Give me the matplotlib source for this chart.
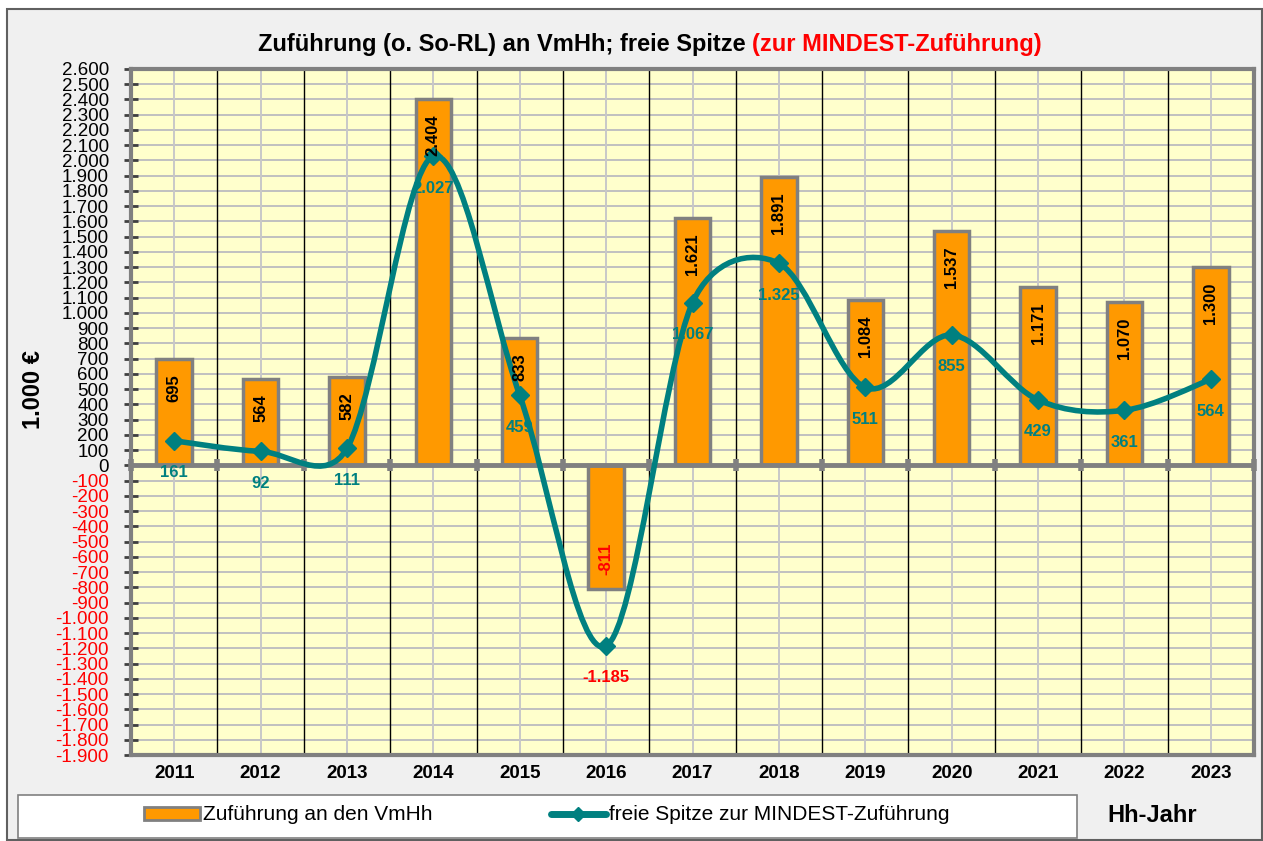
import numpy as np
import matplotlib
matplotlib.use('Agg')
import matplotlib.pyplot as plt
from matplotlib.path import Path
from matplotlib.patches import PathPatch, Rectangle, Patch
from matplotlib.lines import Line2D
from matplotlib.ticker import FuncFormatter, MultipleLocator

plt.rcParams['font.family'] = ['Liberation Sans', 'DejaVu Sans']

# ==================== DATA ====================
years = ['2011', '2012', '2013', '2014', '2015', '2016', '2017',
         '2018', '2019', '2020', '2021', '2022', '2023']
zufuehrung = [695, 564, 582, 2404, 833, -811, 1621, 1891, 1084, 1537, 1171, 1070, 1300]
freie_spitze = [161, 92, 111, 2027, 459, -1185, 1067, 1325, 511, 855, 429, 361, 564]

ORANGE = '#FF9900'
TEAL = '#008080'
GRAY = '#808080'
W, H = 1263, 841


def de_fmt(v):
    # german thousands separator
    s = f"{abs(int(round(v))):,}".replace(',', '.')
    return ('-' if v < 0 else '') + s


def smooth_path(ax, xs, ys):
    """Excel-like smoothed line: cubic Bezier, control arms d02/6 capped at half the segment (screen space)"""
    pts = ax.transData.transform(np.column_stack([xs, ys]).astype(float))
    n = len(pts)
    fwd, bwd = [], []
    for i in range(n):
        t = pts[min(i + 1, n - 1)] - pts[max(i - 1, 0)]
        tl = np.hypot(*t)
        u = t / tl if tl > 0 else t
        d_prev = np.hypot(*(pts[i] - pts[i - 1])) if i > 0 else 0
        d_next = np.hypot(*(pts[i + 1] - pts[i])) if i < n - 1 else 0
        fwd.append(pts[i] + u * min(tl / 6, d_next / 2))
        bwd.append(pts[i] - u * min(tl / 6, d_prev / 2))
    verts = [pts[0]]
    codes = [Path.MOVETO]
    for i in range(n - 1):
        verts += [fwd[i], bwd[i + 1], pts[i + 1]]
        codes += [Path.CURVE4] * 3
    verts = ax.transData.inverted().transform(np.array(verts))
    return Path(verts, codes)


fig = plt.figure(figsize=(W / 100, H / 100), dpi=100)
fig.patch.set_facecolor('white')

# chart area background + border
fig.patches.append(Rectangle((7 / W, 1 - 840 / H), 1255 / W, 831 / H, transform=fig.transFigure,
                             facecolor='#F0F0F0', edgecolor='#606060', linewidth=1.5, zorder=-10))
# legend box
fig.patches.append(Rectangle((18 / W, 1 - 838 / H), 1059 / W, 43 / H, transform=fig.transFigure,
                             facecolor='white', edgecolor=GRAY, linewidth=1.2, zorder=-5))

ax = fig.add_axes([131 / W, 1 - 755 / H, 1123 / W, 686 / H])
ax.set_facecolor('#FFFFCC')

x = np.arange(len(years))
ax.set_xlim(-0.5, len(years) - 0.5)
ax.set_ylim(-1900, 2600)

# grid
for yv in np.arange(-1900, 2601, 100):
    ax.axhline(yv, color='#C0C0C0', linewidth=1.4, zorder=0)
for xi in x:
    ax.axvline(xi, color='#C8C8C8', linewidth=1.4, zorder=0)
for xb in x[:-1] + 0.5:
    ax.axvline(xb, color='black', linewidth=1.0, zorder=0.5)

# bars
bars = ax.bar(x, zufuehrung, width=0.41, color=ORANGE, edgecolor=GRAY, linewidth=2.5, zorder=2)
for xi, v in zip(x, zufuehrung):
    if v >= 0:
        ax.annotate(de_fmt(v), (xi, v), xytext=(0, -11), textcoords='offset points',
                    rotation=90, ha='center', va='top', fontsize=12, fontweight='bold',
                    color='black', zorder=6)
    else:
        ax.annotate(de_fmt(v), (xi, v), xytext=(0, 10), textcoords='offset points',
                    rotation=90, ha='center', va='bottom', fontsize=12, fontweight='bold',
                    color='red', zorder=6)

# zero axis
ax.axhline(0, color=GRAY, linewidth=3.5, zorder=3)
ax.plot(np.arange(-0.5, len(years)), np.zeros(len(years) + 1), linestyle='none', marker='|',
        markersize=9, markeredgewidth=4, color=GRAY, zorder=3, clip_on=False)

# smoothed line
ax.add_patch(PathPatch(smooth_path(ax, x, freie_spitze), facecolor='none', edgecolor=TEAL,
                       linewidth=4, capstyle='round', joinstyle='round', zorder=4))
ax.plot(x, freie_spitze, linestyle='none', marker='D', markersize=9, color=TEAL, zorder=5)
for xi, v in zip(x, freie_spitze):
    ax.annotate(de_fmt(v), (xi, v), xytext=(0, -23), textcoords='offset points',
                ha='center', va='center', fontsize=12, fontweight='bold',
                color=TEAL if v >= 0 else 'red', zorder=3.5)

# axes styling
for side in ['left', 'top', 'right', 'bottom']:
    ax.spines[side].set_color(GRAY)
    ax.spines[side].set_linewidth(3)
ax.yaxis.set_major_locator(MultipleLocator(100))
ax.yaxis.set_major_formatter(FuncFormatter(lambda v, p: de_fmt(v)))
ax.tick_params(axis='y', direction='inout', length=10, width=2, color='#404040',
               labelsize=13.5, pad=11)
for lab, val in zip(ax.get_yticklabels(), ax.get_yticks()):
    if val < 0:
        lab.set_color('red')
ax.set_xticks(x)
ax.set_xticklabels(years, fontsize=13.5, fontweight='bold')
ax.tick_params(axis='x', length=0, pad=7)

ax.set_ylabel('1.000 €', fontsize=17, fontweight='bold')
ax.yaxis.set_label_coords(-(131 - 45) / 1123, (755 - 390) / 686)

# title in two colours
t1 = fig.text(258 / W, 1 - 44 / H, 'Zuführung (o. So-RL) an VmHh; freie Spitze ', fontsize=17,
              fontweight='bold', ha='left', va='center')
fig.canvas.draw()
ax.annotate('(zur MINDEST-Zuführung)', xy=(1, 0), xycoords=t1, ha='left', va='bottom',
            fontsize=17, fontweight='bold', color='red', annotation_clip=False)

# legend
handles = [Patch(facecolor=ORANGE, edgecolor=GRAY, linewidth=2),
           Line2D([0], [0], color=TEAL, linewidth=5, marker='D', markersize=7,
                  solid_capstyle='round')]
fig.legend(handles, ['Zuführung an den VmHh', 'freie Spitze zur MINDEST-Zuführung'],
           ncol=2, loc='center', bbox_to_anchor=(547 / W, 1 - 815 / H), frameon=False,
           fontsize=15, handlelength=2.65, handleheight=0.6, handletextpad=0.15, columnspacing=5.7)
fig.text(1152 / W, 1 - 815 / H, 'Hh-Jahr', fontsize=17, fontweight='bold', ha='center', va='center')

plt.savefig('out.png', dpi=100)
